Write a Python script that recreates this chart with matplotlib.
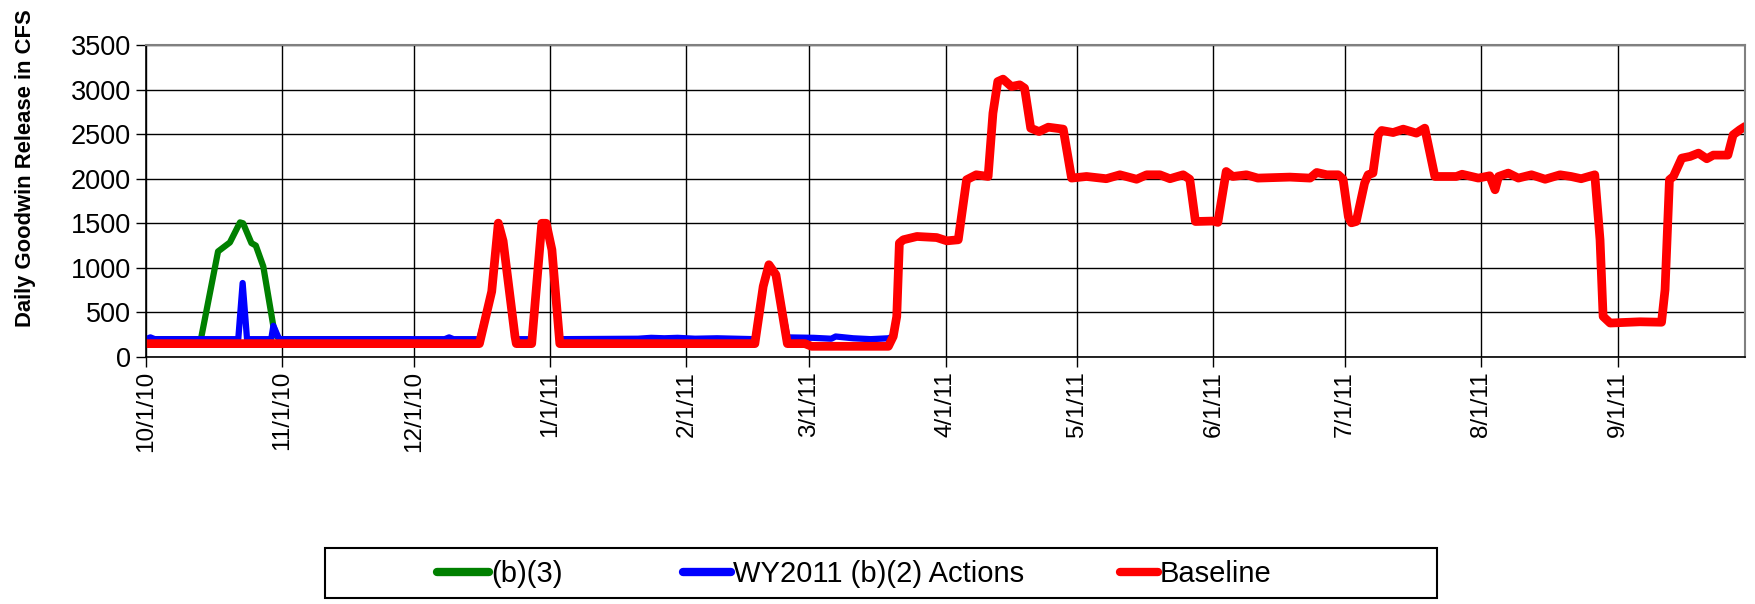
import matplotlib
matplotlib.use('Agg')
import matplotlib.pyplot as plt
import matplotlib.dates as mdates
from matplotlib.patches import Rectangle
from matplotlib.ticker import FuncFormatter
import datetime as dt

# 数据 (day offset from 10/1/10, CFS)
start = dt.datetime(2010, 10, 1)

b3_days = [0, 12.5, 16.4, 18.4, 19.1, 21.4, 22.1, 24.0, 25.0, 26.7, 29.0, 29.8, 30.5, 60]
b3_vals = [200, 200, 1184, 1259, 1285, 1510, 1500, 1278, 1250, 1016, 343, 230, 200, 200]

b2_days = [0, 1, 2, 21, 22, 23, 28.5, 29, 30.3, 68, 69, 70, 75.9, 78.7, 80.2, 81.3,
           84.0, 84.5, 87.8, 90.1, 91.1, 92.4, 94.0, 112, 115, 118, 121, 125, 130,
           138.6, 140.5, 141.8, 143.4, 146, 152, 156, 157, 160, 161, 165, 169, 170.1, 170.9]
b2_vals = [200, 220, 200, 200, 830, 200, 200, 350, 200, 200, 220, 200, 200, 735, 1502, 1300,
           231, 200, 200, 1500, 1500, 1203, 200, 205, 215, 210, 215, 205, 210,
           200, 792, 1035, 922, 220, 215, 205, 230, 215, 210, 200, 210, 231, 454]

base_days = [0, 75.9, 78.7, 80.2, 81.3, 84.0, 84.3, 87.8, 90.1, 91.1, 92.4, 94.2,
             138.6, 140.5, 141.8, 143.4, 146, 150, 151.5, 169, 170.1, 170.9, 171.5,
             172.4, 175.5, 180, 182.3, 184.9, 186.8, 189, 191.7, 192.8, 193.9, 195.1,
             197, 198.9, 200, 201.4, 203.3, 205.4, 208.8, 210.7, 214.1, 218.6, 221.7,
             225.5, 227.8, 230.8, 233.1, 236.1, 237.6, 238.9, 242.9, 244, 245.9, 247.4,
             250.5, 253.1, 260.4, 265, 266.5, 268.8, 271.4, 272.5, 273.7, 274.4, 275.5,
             277.4, 278.2, 279.3, 280.5, 281.3, 283.9, 286.2, 289.2, 291.1, 293.4,
             298.3, 299.6, 303.3, 305.9, 307.1, 307.9, 310.1, 312.4, 315.4, 318.5,
             321.9, 324.4, 326.7, 329.8, 331, 331.7, 333.3, 340.1, 345, 345.8, 346.8,
             347.7, 349.6, 351.5, 353.4, 355.3, 356.8, 360.1, 361.3, 362.8, 364]
base_vals = [150, 150, 735, 1502, 1300, 231, 150, 150, 1500, 1500, 1203, 150,
             150, 792, 1035, 922, 150, 150, 120, 120, 231, 454, 1278,
             1315, 1352, 1340, 1303, 1315, 1988, 2044, 2025, 2735, 3090, 3117,
             3034, 3053, 3016, 2567, 2529, 2578, 2556, 2007, 2025, 2000, 2044,
             1994, 2044, 2044, 2000, 2044, 1994, 1520, 1525, 1510, 2081, 2025,
             2044, 2007, 2018, 2007, 2070, 2044, 2044, 1994, 1576, 1505, 1520,
             1950, 2044, 2063, 2492, 2541, 2518, 2556, 2511, 2567, 2025,
             2025, 2050, 2007, 2033, 1876, 2025, 2063, 2007, 2044, 1994,
             2044, 2025, 2000, 2044, 1315, 455, 381, 395, 390, 755, 1988,
             2025, 2231, 2250, 2287, 2224, 2265, 2265, 2492, 2548, 2586]

labels = ['(b)(3)', 'WY2011 (b)(2) Actions', 'Baseline']
colors = ['#008000', '#0000FF', '#FF0000']

month_ticks = [dt.datetime(2010, m, 1) for m in (10, 11, 12)] + \
              [dt.datetime(2011, m, 1) for m in range(1, 10)]
y_ticks = [0, 500, 1000, 1500, 2000, 2500, 3000, 3500]

# 设置字体
plt.rcParams['font.family'] = ['Liberation Sans', 'DejaVu Sans']

t0 = mdates.date2num(start)
to_x = lambda days: [t0 + d for d in days]

fig = plt.figure(figsize=(17.56, 6.04), dpi=100)
ax = fig.add_axes([146 / 1756, 1 - 357 / 604, 1599 / 1756, 312 / 604])

l1, = ax.plot(to_x(b3_days), b3_vals, color=colors[0], lw=4.5, solid_joinstyle='round', solid_capstyle='round')
l2, = ax.plot(to_x(b2_days), b2_vals, color=colors[1], lw=4.5, solid_joinstyle='round', solid_capstyle='round')
l3, = ax.plot(to_x(base_days), base_vals, color=colors[2], lw=6.3, solid_joinstyle='round', solid_capstyle='round')

ax.set_xlim(t0, t0 + 364)
ax.set_ylim(0, 3500)
ax.set_yticks(y_ticks)
ax.set_xticks([mdates.date2num(d) for d in month_ticks])
ax.xaxis.set_major_formatter(FuncFormatter(
    lambda v, p: '{d.month}/{d.day}/{y}'.format(d=mdates.num2date(v), y=mdates.num2date(v).strftime('%y'))))
ax.tick_params(axis='x', labelrotation=90, labelsize=17.5, length=7, width=1, pad=3)
ax.tick_params(axis='y', labelsize=19.5, length=7, width=1, pad=4)
ax.grid(True, color='black', lw=1)
ax.set_axisbelow(True)
for s in ('top', 'right'):
    ax.spines[s].set_color('#808080')
    ax.spines[s].set_linewidth(1.5)
for s in ('left', 'bottom'):
    ax.spines[s].set_linewidth(1.2)

fig.text(26 / 1756, 1 - 168 / 604, 'Daily Goodwin Release in CFS', rotation=90,
         fontsize=15.8, fontweight='bold', ha='center', va='center')

# 图例
fig.patches.append(Rectangle((325 / 1756, 1 - 598 / 604), 1112 / 1756, 50 / 604,
                             transform=fig.transFigure, fill=False, edgecolor='black', lw=1.5))
handles = [l1, l2, l3]
leg_x = [437, 683, 1120]
leg_len = [1.8, 1.65, 1.3]
for h, lab, x, hl in zip(handles, labels, leg_x, leg_len):
    lg = fig.legend([h], [lab], loc='center left', bbox_to_anchor=(x / 1756, 1 - 574 / 604),
                    frameon=False, handlelength=hl, handletextpad=0.05,
                    borderpad=0, borderaxespad=0, fontsize=21)
    lg.get_lines()[0].set_linewidth(6)

plt.savefig('out.png', dpi=100)
plt.close()
